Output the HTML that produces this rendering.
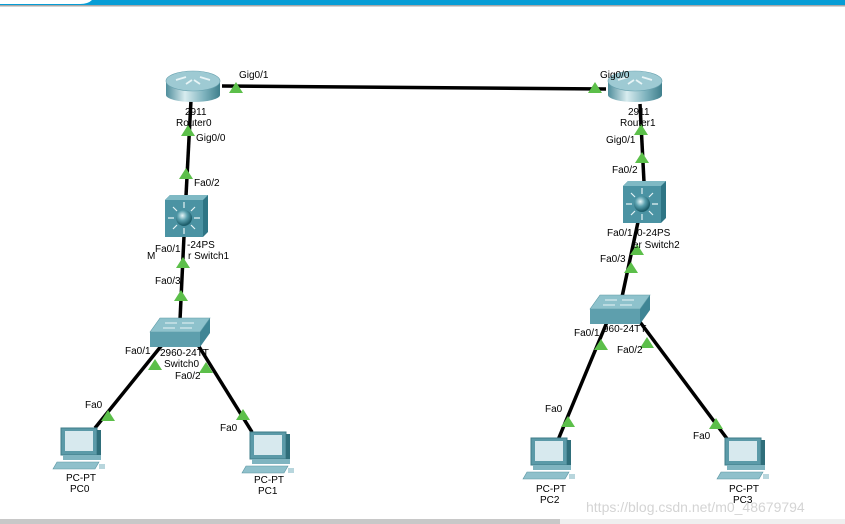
<!DOCTYPE html>
<html><head><meta charset="utf-8"><style>
html,body{margin:0;padding:0;background:#fff;}
svg{display:block;font-family:"Liberation Sans",Arial,sans-serif;}
</style></head><body>
<svg width="845" height="524" viewBox="0 0 845 524" xmlns="http://www.w3.org/2000/svg">
<defs>
<linearGradient id="rg" x1="0" x2="1" y1="0" y2="0">
<stop offset="0" stop-color="#4f8e9c"/><stop offset="0.35" stop-color="#d8ecef"/><stop offset="0.7" stop-color="#7fb3be"/><stop offset="1" stop-color="#3f7f8c"/></linearGradient>
<radialGradient id="ball" cx="0.4" cy="0.35" r="0.6"><stop offset="0" stop-color="#e8f6f8"/><stop offset="0.5" stop-color="#5aa0ae"/><stop offset="1" stop-color="#1e5f6c"/></radialGradient>
<g id="tri"><polygon points="0,-6 -7,5 7,5" fill="#5cbf4a"/></g>
<g id="pc">
<rect x="8" y="0" width="36" height="27" fill="#5b9aa8" stroke="#3f7c88"/>
<rect x="12" y="3" width="28" height="20" fill="#d7e9ee"/>
<rect x="44" y="2" width="4" height="27" fill="#2f6e7a"/>
<rect x="10" y="27" width="38" height="5" fill="#7fb4c0"/>
<polygon points="4,34 46,34 42,41 0,41" fill="#8fc0cb" stroke="#5a95a2" stroke-width="0.6"/>
<rect x="46" y="36" width="6" height="5" fill="#b8d6dd"/>
</g>
<g id="router">
<path d="M0,10 V24 A27,7 0 0 0 54,24 V10 Z" fill="url(#rg)"/>
<ellipse cx="27" cy="10" rx="27" ry="10" fill="#9ecad3" stroke="#6aa3b0" stroke-width="0.6"/>
<path d="M10,9 l10,-3 M34,6 l10,3 M20,13 l6,-4 M34,13 l-6,-4" stroke="#e8f4f6" stroke-width="1.8"/>
</g>
<g id="mls">
<polygon points="0,5 5,0 43,0 43,37 38,42 0,42" fill="#2e7585"/>
<rect x="0" y="5" width="38" height="37" fill="#4b93a3"/>
<polygon points="0,5 5,0 43,0 38,5" fill="#7fb9c4"/>
<circle cx="19" cy="23" r="8" fill="url(#ball)"/>
<g stroke="#e6f3f5" stroke-width="1.2">
<path d="M19,13 V7 M19,33 V39 M9,23 H3 M29,23 H35 M12,16 l-4,-4 M26,16 l4,-4 M12,30 l-4,4 M26,30 l4,4"/></g>
</g>
<g id="sw">
<polygon points="0,14 10,0 60,0 60,15 50,29 0,29" fill="#3f8595"/>
<polygon points="0,14 10,0 60,0 50,14" fill="#8ec2cc" stroke="#5e9aa6" stroke-width="0.6"/>
<rect x="0" y="14" width="50" height="15" fill="#5e9fad"/>
<path d="M15,5 h12 M32,5 h12 M13,10 h12 M30,10 h12" stroke="#e8f4f6" stroke-width="1"/>
</g>
</defs>

<rect x="0" y="0" width="845" height="5" fill="#069dd6"/>
<path d="M0,0 H92 Q88,4 80,4 H0 Z" fill="#fff"/>
<rect x="0" y="5" width="845" height="1.5" fill="#a8a8a8"/>
<rect x="0" y="519" width="560" height="5" fill="#c8c8c8"/>
<rect x="560" y="519" width="285" height="5" fill="#efefef"/>

<g stroke="#000" stroke-width="3.5" fill="none">
<line x1="222" y1="86" x2="606" y2="89"/>
<line x1="191" y1="100" x2="186" y2="196"/>
<line x1="184" y1="236" x2="180" y2="320"/>
<line x1="162" y1="345" x2="95" y2="428"/>
<line x1="198" y1="345" x2="252" y2="432"/>
<line x1="640" y1="104" x2="644" y2="182"/>
<line x1="638" y1="222" x2="622" y2="297"/>
<line x1="607" y1="322" x2="558" y2="440"/>
<line x1="640" y1="322" x2="728" y2="440"/>
</g>

<use href="#router" x="166" y="71"/>
<use href="#router" x="608" y="71"/>
<use href="#mls" x="165" y="195"/>
<use href="#mls" x="623" y="181"/>
<use href="#sw" x="150" y="318"/>
<use href="#sw" x="590" y="295"/>
<use href="#pc" x="53" y="428"/>
<use href="#pc" x="242" y="432"/>
<use href="#pc" x="523" y="438"/>
<use href="#pc" x="717" y="438"/>

<use href="#tri" x="236" y="88"/>
<use href="#tri" x="595" y="88"/>
<use href="#tri" x="188" y="131"/>
<use href="#tri" x="186" y="174"/>
<use href="#tri" x="183" y="263"/>
<use href="#tri" x="181" y="296"/>
<use href="#tri" x="155" y="365"/>
<use href="#tri" x="206" y="368"/>
<use href="#tri" x="108" y="416"/>
<use href="#tri" x="243" y="415"/>
<use href="#tri" x="641" y="130"/>
<use href="#tri" x="642" y="158"/>
<use href="#tri" x="637" y="250"/>
<use href="#tri" x="631" y="268"/>
<use href="#tri" x="601" y="345"/>
<use href="#tri" x="647" y="343"/>
<use href="#tri" x="568" y="422"/>
<use href="#tri" x="716" y="424"/>

<g font-size="10" fill="#000">
<text x="239" y="78">Gig0/1</text>
<text x="600" y="78">Gig0/0</text>
<text x="185" y="115">2911</text>
<text x="176" y="126">Router0</text>
<text x="196" y="141">Gig0/0</text>
<text x="194" y="186">Fa0/2</text>
<text x="155" y="252">Fa0/1</text>
<text x="187" y="248">-24PS</text>
<text x="147" y="259">M</text>
<text x="188" y="259">r Switch1</text>
<text x="155" y="284">Fa0/3</text>
<text x="125" y="354">Fa0/1</text>
<text x="160" y="356">2960-24TT</text>
<text x="164" y="367">Switch0</text>
<text x="175" y="379">Fa0/2</text>
<text x="85" y="408">Fa0</text>
<text x="220" y="431">Fa0</text>
<text x="66" y="481">PC-PT</text>
<text x="70" y="492">PC0</text>
<text x="254" y="483">PC-PT</text>
<text x="258" y="494">PC1</text>
<text x="628" y="115">2911</text>
<text x="620" y="126">Router1</text>
<text x="606" y="143">Gig0/1</text>
<text x="612" y="173">Fa0/2</text>
<text x="607" y="236">Fa0/1</text>
<text x="637" y="236">0-24PS</text>
<text x="633" y="248">er Switch2</text>
<text x="600" y="262">Fa0/3</text>
<text x="574" y="336">Fa0/1</text>
<text x="603" y="332">960-24TT</text>
<text x="617" y="353">Fa0/2</text>
<text x="545" y="412">Fa0</text>
<text x="693" y="439">Fa0</text>
<text x="536" y="492">PC-PT</text>
<text x="540" y="503">PC2</text>
<text x="729" y="492">PC-PT</text>
<text x="733" y="503">PC3</text>
</g>
<text x="586" y="512" font-size="14" fill="#d4d4d4">https://blog.csdn.net/m0_48679794</text>
</svg>
</body></html>
